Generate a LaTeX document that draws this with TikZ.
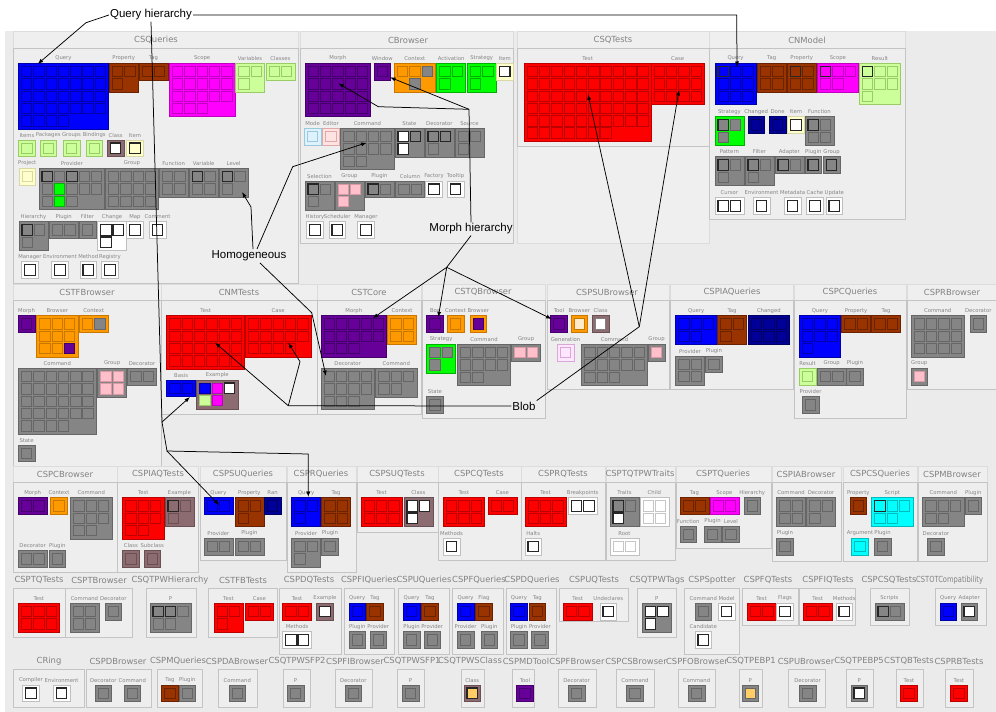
\documentclass[tikz,border=0pt]{standalone}
\usepackage{fontspec}
\usepackage{graphicx}
\usetikzlibrary{arrows.meta}
\newfontfamily\djv{DejaVu Sans}
\newfontfamily\annf{Liberation Sans}
\newcommand\lblfont{\djv\fontsize{5.3}{6.3}\selectfont}
\newcommand\ttlfont{\djv\fontsize{8.4}{10}\selectfont}
\newcommand\annfont{\annf\fontsize{11.5}{13}\selectfont}
\definecolor{cBlue}{HTML}{0000FF}\definecolor{cBlueD}{HTML}{0000A8}
\definecolor{cBrown}{HTML}{993300}\definecolor{cBrownD}{HTML}{6B2200}
\definecolor{cMag}{HTML}{FF00FF}\definecolor{cMagD}{HTML}{C000C0}
\definecolor{cLG}{HTML}{CCFF99}\definecolor{cLGD}{HTML}{99CC66}
\definecolor{cPur}{HTML}{660099}\definecolor{cPurD}{HTML}{44006A}
\definecolor{cOra}{HTML}{FF9900}\definecolor{cOraD}{HTML}{C87800}
\definecolor{cGrn}{HTML}{00FF00}\definecolor{cGrnD}{HTML}{00B000}
\definecolor{cGry}{HTML}{858585}\definecolor{cGryD}{HTML}{666666}
\definecolor{cRed}{HTML}{FF0000}\definecolor{cRedD}{HTML}{BB0000}
\definecolor{cNavy}{HTML}{000099}\definecolor{cNavyD}{HTML}{000060}
\definecolor{cLY}{HTML}{FFFFCC}\definecolor{cLYD}{HTML}{D8D8A8}
\definecolor{cMau}{HTML}{8C6C70}\definecolor{cMauD}{HTML}{6A5053}
\definecolor{cPink}{HTML}{FFC0CB}\definecolor{cPinkD}{HTML}{D89AA4}
\definecolor{cPeach}{HTML}{FFEACC}
\definecolor{cCyan}{HTML}{00FFFF}\definecolor{cCyanD}{HTML}{00BBBB}
\definecolor{cLB}{HTML}{DDF2FC}\definecolor{cLBD}{HTML}{9CC8DC}
\definecolor{cLP}{HTML}{FFE2E2}\definecolor{cLPD}{HTML}{E0A8A8}
\definecolor{cGen}{HTML}{FFE6FF}\definecolor{cGenD}{HTML}{D8A8D8}
\definecolor{cLO}{HTML}{FFCC66}
\definecolor{labelgray}{HTML}{858585}
\definecolor{titlegray}{HTML}{828282}
\definecolor{bgc}{HTML}{EBEBEB}
\definecolor{bandbg}{HTML}{EFEFEF}
\definecolor{bandline}{HTML}{DCDCDC}
\definecolor{bodybg}{HTML}{EEEEEE}
\definecolor{bodyline}{HTML}{C4C4C4}
\newcommand\scheme[6]{\tikzset{#1-b/.style={fill=#2,draw=#3,line width=0.5pt},#1-c/.style={fill=#4,draw=#5,line width=0.8pt,#6}}}
\scheme{bl}{cBlue}{cBlueD}{cBlue}{cBlueD}{}
\scheme{br}{cBrown}{cBrownD}{cBrown}{cBrownD}{}
\scheme{mg}{cMag}{cMagD}{cMag}{cMagD}{}
\scheme{lg}{cLG}{cLGD}{cLG}{cLGD}{}
\scheme{pu}{cPur}{cPurD}{cPur}{cPurD}{}
\scheme{or}{cOra}{cOraD}{cOra}{cOraD}{}
\scheme{gn}{cGrn}{cGrnD}{cGrn}{cGrnD}{}
\scheme{gy}{cGry}{cGryD}{cGry}{cGryD}{}
\scheme{rd}{cRed}{cRedD}{cRed}{cRedD}{}
\scheme{nv}{cNavy}{cNavyD}{cNavy}{cNavyD}{}
\scheme{ly}{cLY}{cLYD}{cLY}{cLYD}{}
\scheme{lyk}{cLY}{cLYD}{cLY}{black!85}{line width=1.1pt}
\scheme{lyw}{cLY}{cLYD}{white}{black!85}{line width=1.1pt}
\scheme{mw}{cMau}{cMauD}{white}{black!85}{line width=1.1pt}
\scheme{mwg}{cMau}{cMauD}{white}{gray}{}
\scheme{wk}{white}{gray!50}{white}{black!85}{line width=1.1pt}
\scheme{wl}{white}{gray!50}{white}{gray!45}{}
\scheme{gpk}{cGry}{cGryD}{cPink}{cPinkD}{}
\scheme{ggy}{cGrn}{cGrnD}{cGry}{cGryD}{}
\scheme{op}{cOra}{cOraD}{cPur}{cPurD}{}
\scheme{ope}{cOra}{cOraD}{cPeach}{cOraD}{}
\scheme{mv}{cMau}{cMauD}{cMau}{cMauD}{}
\scheme{cy}{cCyan}{cCyanD}{cCyan}{cCyanD}{}
\scheme{lb}{cLB}{cLBD}{cLB}{cLBD}{}
\scheme{lp}{cLP}{cLPD}{cLP}{cLPD}{}
\scheme{gen}{cGen}{cGenD}{cGen}{cGenD}{}
\scheme{mlo}{cMau}{cMauD}{cLO}{black!85}{line width=1.1pt}
\scheme{glo}{cGry}{cGryD}{cLO}{cGryD}{}
\scheme{gwk}{cGry}{cGryD}{white}{black!85}{line width=1.1pt}
\tikzset{
  sk/.style={draw=black!85,line width=1.1pt},
  swk/.style={fill=white,draw=black!85,line width=1.1pt},
  sg/.style={fill=cGry,draw=cGryD},
  sgc/.style={fill=cGrn,draw=cGrnD},
  spu/.style={fill=cPur,draw=cPurD},
  scb/.style={fill=cBlue,draw=cBlueD},
  scm/.style={fill=cMag,draw=cMagD},
  sclg/.style={fill=cLG,draw=cLGD},
  snone/.style={fill=none,draw=none},
  lbl/.style={font=\lblfont,text=labelgray,inner sep=0pt},
  ttl/.style={font=\ttlfont,text=titlegray,inner sep=0pt},
  ann/.style={font=\annfont,text=black,inner sep=1pt},
  ln/.style={draw=black,line width=0.75pt},
  arr/.style={draw=black,line width=0.75pt,-{Latex[length=5.5pt,width=4pt]}},
  pkgband/.style={fill=bandbg,draw=bandline,line width=0.5pt},
  pkgbody/.style={fill=bodybg,draw=bodyline,line width=0.8pt},
}
\newcount\gcnt
\newcount\pcnt
% group: x, y, cols, rows, ncells, scheme, label, specials (index/style,...)
\newcommand\grp[8]{%
  \pgfmathsetmacro\gW{12.3*#3+4.2}%
  \pgfmathsetmacro\gH{12.3*#4+4.2}%
  \path[#6-b] (#1,#2) rectangle ++(\gW,\gH);%
  \global\advance\gcnt by 1
  \node[lbl] (lb\the\gcnt) at ({#1+\gW/2},{#2-4.8}) {#7};%
  \def\speclist{#8}%
  \foreach \gk in {1,...,#5}{%
    \gdef\cst{}%
    \ifx\speclist\empty\else
      \foreach \spA/\spB in \speclist {\ifnum\spA=\gk\relax\xdef\cst{\spB}\fi}%
    \fi
    \pgfmathtruncatemacro\grr{(\gk-1)/#3}%
    \pgfmathtruncatemacro\gcc{\gk-1-\grr*#3}%
    \pgfmathsetmacro\gcx{#1+3+\gcc*12.3}%
    \pgfmathsetmacro\gcy{#2+3+\grr*12.3}%
    \edef\doit{\noexpand\path[#6-c,\cst] (\gcx,\gcy) rectangle ++(10.5,10.5);}%
    \doit
  }%
}
% package: x0, x1, ytop, ybody, ybottom, title, title x
\newcommand\pkg[7]{%
  \path[pkgband] (#1,#3) rectangle (#2,#5);
  \path[pkgbody] (#1,#4) rectangle (#2,#5);
  \global\advance\pcnt by 1
  \node[ttl] (pk\the\pcnt) at (#7,{#4-8}) {#6};
}
\begin{document}
\begin{tikzpicture}[x=1pt,y=-1pt]
\useasboundingbox (0,0) rectangle (996,712);
\begin{scope}
\clip (0,0) rectangle (996,712);
\fill[white] (0,0) rectangle (996,712);
\fill[bgc] (5,31) rectangle (996,712);
% ---------- packages ----------
\pkg{13}{298}{31}{48}{283}{CSQueries}{156}
\pkg{300}{513}{31}{48}{243}{CBrowser}{408}
\path[pkgband] (517,31) rectangle (709,243);
\pkg{517}{709}{31}{48}{146}{CSQTests}{613}
\pkg{709}{905}{31}{48}{219}{CNModel}{807}
\pkg{13}{161}{284}{300}{467}{CSTFBrowser}{87}
\pkg{161}{317}{284}{300}{414}{CNMTests}{239}
\pkg{317}{421}{284}{300}{414}{CSTCore}{369}
\pkg{422}{545}{284}{300}{418}{CSTQBrowser}{483}
\pkg{547}{669}{284}{300}{389}{CSPSUBrowser}{607}
\pkg{670}{793}{284}{300}{389}{CSPIAQueries}{732}
\pkg{794}{906}{284}{300}{418}{CSPCQueries}{850}
\pkg{907}{996}{284}{300}{389}{CSPRBrowser}{952}
\pkg{13}{117}{466}{482}{572}{CSPCBrowser}{65}
\pkg{117}{198}{466}{482}{572}{CSPIAQTests}{158}
\pkg{200}{286}{466}{482}{560}{CSPSUQueries}{243}
\pkg{287}{356}{466}{482}{572}{CSPRQueries}{321}
\pkg{357}{438}{466}{482}{532}{CSPSUQTests}{397}
\pkg{438}{521}{466}{482}{560}{CSPCQTests}{479}
\pkg{521}{605}{466}{482}{560}{CSPRQTests}{563}
\pkg{606}{675}{466}{482}{560}{CSPTQTPWTraits}{640}
\pkg{676}{771}{466}{482}{548}{CSPTQueries}{723}
\pkg{772}{841}{466}{482}{561}{CSPIABrowser}{806}
\pkg{843}{917}{466}{482}{561}{CSPCSQueries}{880}
\pkg{918}{987}{466}{482}{561}{CSPMBrowser}{952}
\pkg{13}{65}{588}{588}{637}{CSPTQTests}{39}
\pkg{65}{132}{588}{588}{637}{CSPTBrowser}{99}
\pkg{146}{196}{588}{588}{637}{CSQTPWHierarchy}{170}
\pkg{208}{277}{588}{588}{637}{CSTFBTests}{243}
\pkg{279}{341}{588}{588}{654}{CSPDQTests}{309}
\pkg{344}{394}{588}{588}{654}{CSPFIQueries}{369}
\pkg{398}{449}{588}{588}{654}{CSPUQueries}{424}
\pkg{452}{503}{588}{588}{654}{CSPFQueries}{479}
\pkg{506}{556}{588}{588}{654}{CSPDQueries}{532}
\pkg{559}{628}{588}{588}{621}{CSPUQTests}{594}
\pkg{637}{676}{588}{588}{637}{CSQTPWTags}{657}
\pkg{684}{739}{588}{588}{654}{CSPSpotter}{712}
\pkg{742}{798}{588}{588}{625}{CSPFQTests}{768}
\pkg{799}{855}{588}{588}{625}{CSPFIQTests}{828}
\pkg{870}{909}{588}{588}{625}{CSPCSQTests}{889}
\path[pkgband] (935,588) rectangle (986,625);
\path[pkgbody] (935,588) rectangle (986,625);
\node[ttl,anchor=west] (pkcompat) at (916,580) {\scalebox{0.8}[1]{CSTOTCompatibility}};
\pkg{13}{84}{669}{669}{707}{CRing}{49}
\pkg{86}{151}{669}{669}{707}{CSPDBrowser}{118}
\pkg{157}{202}{669}{669}{707}{CSPMQueries}{178}
\pkg{218}{257}{669}{669}{707}{CSPDABrowser}{237}
\pkg{283}{310}{669}{669}{707}{CSQTPWSFP2}{297}
\pkg{335}{372}{669}{669}{707}{CSPFIBrowser}{355}
\pkg{397}{424}{669}{669}{707}{CSQTPWSFP1}{412}
\pkg{461}{484}{669}{669}{707}{CSQTPWSClass}{470}
\pkg{512}{534}{669}{669}{707}{CSPMDTool}{526}
\pkg{558}{596}{669}{669}{707}{CSPFBrowser}{577}
\pkg{616}{654}{669}{669}{707}{CSPCSBrowser}{636}
\pkg{678}{715}{669}{669}{707}{CSPFOBrowser}{697}
\pkg{739}{762}{669}{669}{707}{CSQTPEBP1}{751}
\pkg{788}{825}{669}{669}{707}{CSPUBrowser}{806}
\pkg{846}{873}{669}{669}{707}{CSQTPEBP5}{859}
\pkg{896}{923}{669}{669}{707}{CSTQBTests}{909}
\pkg{945}{973}{669}{669}{707}{CSPRBTests}{959}
% ---------- CSQueries ----------
\grp{18.3}{63.3}{7}{5}{32}{bl}{Query}{}
\grp{109.3}{63.3}{2}{2}{3}{br}{Property}{}
\grp{139}{63.3}{2}{1}{2}{br}{Tag}{}
\grp{169.3}{63.3}{5}{4}{18}{mg}{Scope}{}
\grp{235.7}{63.3}{2}{2}{3}{lg}{Variables}{}
\grp{266}{63.3}{2}{1}{2}{lg}{Classes}{}
\grp{18.7}{140}{1}{1}{1}{lg}{Items}{}
\grp{40}{140}{1}{1}{1}{lg}{Packages}{}
\grp{63.3}{140}{1}{1}{1}{lg}{Groups}{}
\grp{86}{140}{1}{1}{1}{lg}{Bindings}{}
\grp{107.3}{140}{1}{1}{1}{mw}{Class}{}
\grp{126.7}{140}{1}{1}{1}{lyk}{Item}{}
\grp{19}{168.3}{1}{1}{1}{ly}{Project}{}
\grp{39}{168.3}{5}{3}{13}{gy}{Provider}{1/sk,3/sk,7/sgc,12/sgc}
\grp{105.3}{168.3}{4}{3}{12}{gy}{Group}{}
\grp{159.3}{168.3}{2}{2}{4}{gy}{Function}{}
\grp{189.3}{168.3}{2}{2}{4}{gy}{Variable}{1/sk}
\grp{219.3}{168.3}{2}{2}{3}{gy}{Level}{1/sk}
\grp{19}{221.7}{2}{2}{3}{gy}{Hierarchy}{1/sk}
\grp{49.3}{221.7}{2}{1}{2}{gy}{Plugin}{}
\grp{79.3}{221.7}{1}{1}{1}{gy}{Filter}{}
\grp{97.7}{221.7}{2}{2}{3}{wk}{Change}{}
\grp{126.7}{221.7}{1}{1}{1}{wk}{Map}{}
\grp{149.3}{221.7}{1}{1}{1}{wk}{Comment}{}
\grp{21.7}{261.7}{1}{1}{1}{wk}{Manager}{}
\grp{51.7}{261.7}{1}{1}{1}{wk}{Environment}{}
\grp{80}{261.7}{1}{1}{1}{wk}{Method}{}
\grp{101.7}{261.7}{1}{1}{1}{wk}{Registry}{}
% ---------- CBrowser ----------
\grp{305}{63.3}{5}{4}{20}{pu}{Morph}{}
\grp{374}{63.3}{1}{1}{1}{pu}{Window}{}
\grp{394.3}{63.3}{3}{2}{5}{or}{Context}{3/sg,4/snone,5/sg}
\grp{436.7}{63.3}{2}{2}{3}{gn}{Activation}{}
\grp{467.3}{63.3}{2}{2}{3}{gn}{Strategy}{}
\grp{496.5}{63.3}{1}{1}{1}{lyw}{Item}{}
\grp{304.3}{128.3}{1}{1}{1}{lb}{Mode}{}
\grp{322.7}{128.3}{1}{1}{1}{lp}{Editor}{}
\grp{340.7}{128.3}{4}{3}{10}{gy}{Command}{}
\grp{395}{128.3}{2}{2}{3}{gy}{State}{1/swk,2/sk,3/swk}
\grp{425}{128.3}{2}{2}{3}{gy}{Decorator}{1/sk,2/sk}
\grp{455}{128.3}{2}{2}{3}{gy}{Source}{}
\grp{305}{181}{2}{2}{3}{gy}{Selection}{1/sk}
\grp{335}{181}{2}{2}{3}{gpk}{Group}{}
\grp{365}{181}{2}{1}{2}{gy}{Plugin}{1/sk}
\grp{395.7}{181}{2}{1}{2}{gy}{Column}{}
\grp{425.7}{181}{1}{1}{1}{wk}{Factory}{}
\grp{447.3}{181}{1}{1}{1}{wk}{Tooltip}{}
\grp{306.7}{221.7}{1}{1}{1}{wk}{History}{}
\grp{329}{221.7}{1}{1}{1}{wk}{Scheduler}{}
\grp{357.7}{221.7}{1}{1}{1}{wk}{Manager}{}
% ---------- CSQTests ----------
\grp{524}{63.3}{10}{6}{57}{rd}{Test}{}
\grp{651}{63.3}{4}{3}{12}{rd}{Case}{}
% ---------- CNModel ----------
\grp{715}{63.3}{3}{3}{9}{bl}{Query}{1/sk}
\grp{757.3}{63.3}{2}{2}{4}{br}{Tag}{}
\grp{787.3}{63.3}{2}{2}{4}{br}{Property}{1/sk}
\grp{817.3}{63.3}{3}{2}{5}{mg}{Scope}{1/sk}
\grp{859.3}{63.3}{3}{3}{7}{lg}{Result}{1/sk}
\grp{715}{116.7}{2}{2}{3}{ggy}{Strategy}{1/sk}
\grp{748}{116.7}{1}{1}{1}{nv}{Changed}{}
\grp{769.3}{116.7}{1}{1}{1}{nv}{Done}{}
\grp{787.7}{116.7}{1}{1}{1}{lyw}{Item}{}
\grp{805}{116.7}{2}{2}{4}{gy}{Function}{1/sk}
\grp{715}{156.7}{2}{2}{3}{gy}{Pattern}{1/sk}
\grp{745}{156.7}{2}{2}{3}{gy}{Filter}{1/sk}
\grp{775}{156.7}{2}{1}{2}{gy}{Adapter}{1/sk}
\grp{805}{156.7}{1}{1}{1}{gy}{Plugin}{1/sk}
\grp{823.3}{156.7}{1}{1}{1}{gy}{Group}{1/sk}
\grp{715}{197.7}{2}{1}{2}{wk}{Cursor}{}
\grp{753.3}{197.7}{1}{1}{1}{wk}{Environment}{}
\grp{784.3}{197.7}{1}{1}{1}{wk}{Metadata}{}
\grp{806.7}{197.7}{1}{1}{1}{wk}{Cache}{}
\grp{826}{197.7}{1}{1}{1}{wk}{Update}{}
% ---------- CSTFBrowser ----------
\grp{18.3}{315.7}{1}{1}{1}{pu}{Morph}{}
\grp{36.7}{315.7}{3}{3}{9}{or}{Browser}{9/spu}
\grp{79.3}{315.7}{2}{1}{2}{or}{Context}{2/sg}
\grp{18.3}{368.3}{6}{5}{28}{gy}{Command}{}
\grp{97.7}{368.3}{2}{2}{4}{gpk}{Group}{}
\grp{127.7}{368.3}{2}{1}{2}{gy}{Decorator}{}
\grp{18.3}{445}{1}{1}{1}{gy}{State}{}
% ---------- CNMTests ----------
\grp{166.7}{315.7}{6}{4}{24}{rd}{Test}{}
\grp{245.3}{315.7}{5}{3}{14}{rd}{Case}{}
\grp{166.7}{380}{2}{1}{2}{bl}{Basis}{}
\grp{196.7}{380}{3}{2}{5}{mv}{Example}{1/scb,2/scm,3/swk,4/sclg,5/scm}
% ---------- CSTCore ----------
\grp{321}{315.7}{5}{3}{13}{pu}{Morph}{}
\grp{387.7}{315.7}{2}{2}{4}{or}{Context}{}
\grp{321}{368.3}{4}{3}{11}{gy}{Decorator}{}
\grp{375.7}{368.3}{3}{2}{5}{gy}{Command}{}
% ---------- CSTQBrowser ----------
\grp{426.7}{315.7}{1}{1}{1}{pu}{Box}{}
\grp{447.3}{315.7}{1}{1}{1}{or}{Context}{}
\grp{470}{315.7}{1}{1}{1}{op}{Browser}{}
\grp{426.7}{344.3}{2}{2}{3}{ggy}{Strategy}{}
\grp{457.3}{344.3}{4}{3}{10}{gy}{Command}{}
\grp{511.7}{344.3}{2}{1}{2}{gpk}{Group}{}
\grp{426.7}{396.7}{1}{1}{1}{gy}{State}{}
% ---------- CSPSUBrowser ----------
\grp{550.7}{315.7}{1}{1}{1}{pu}{Tool}{}
\grp{571}{315.7}{1}{1}{1}{ope}{Browser}{}
\grp{592.3}{315.7}{1}{1}{1}{mwg}{Class}{}
\grp{557.3}{344.3}{1}{1}{1}{gen}{Generation}{}
\grp{581.7}{344.3}{5}{3}{13}{gy}{Command}{}
\grp{648.3}{344.3}{1}{1}{1}{gpk}{Group}{}
% ---------- CSPIAQueries ----------
\grp{675.7}{315.7}{3}{2}{5}{bl}{Query}{}
\grp{717.7}{315.7}{2}{2}{3}{br}{Tag}{}
\grp{748.3}{315.7}{3}{2}{6}{nv}{Changed}{}
\grp{675.7}{356}{2}{2}{4}{gy}{Provider}{}
\grp{705.7}{356}{1}{1}{1}{gy}{Plugin}{}
% ---------- CSPCQueries ----------
\grp{799.3}{315.7}{3}{3}{7}{bl}{Query}{}
\grp{841.7}{315.7}{2}{1}{2}{br}{Property}{}
\grp{871.7}{315.7}{2}{1}{2}{br}{Tag}{}
\grp{799.3}{368.3}{1}{1}{1}{lg}{Result}{}
\grp{817.3}{368.3}{2}{1}{2}{gy}{Group}{}
\grp{846.7}{368.3}{1}{1}{1}{gy}{Plugin}{}
\grp{802.3}{396.7}{1}{1}{1}{gy}{Provider}{}
% ---------- CSPRBrowser ----------
\grp{911}{315.7}{4}{3}{12}{gy}{Command}{}
\grp{970}{315.7}{1}{1}{1}{gy}{Decorator}{}
\grp{911}{368.3}{1}{1}{1}{gpk}{Group}{}
% ---------- row 3 ----------
\grp{18.3}{497.7}{2}{1}{2}{pu}{Morph}{}
\grp{50.7}{497.7}{1}{1}{1}{or}{Context}{}
\grp{70.7}{497.7}{3}{3}{8}{gy}{Command}{}
\grp{18.3}{550.7}{2}{1}{2}{gy}{Decorator}{}
\grp{49}{550.7}{1}{1}{1}{gy}{Plugin}{}
\grp{122.7}{497.7}{3}{3}{8}{rd}{Test}{}
\grp{165}{497.7}{2}{2}{3}{mv}{Example}{1/sk}
\grp{122.7}{550.7}{1}{1}{1}{mv}{Class}{}
\grp{144}{550.7}{1}{1}{1}{mv}{Subclass}{}
\grp{204}{497.7}{2}{1}{2}{bl}{Query}{}
\grp{235}{497.7}{2}{2}{3}{br}{Property}{}
\grp{264.3}{497.7}{1}{1}{1}{nv}{Ran}{}
\grp{204}{538.3}{2}{1}{2}{gy}{Provider}{}
\grp{235}{538.3}{2}{1}{2}{gy}{Plugin}{}
\grp{291.7}{497.7}{2}{2}{3}{bl}{Query}{}
\grp{321.7}{497.7}{2}{2}{4}{br}{Tag}{}
\grp{291.7}{538.3}{2}{2}{3}{gy}{Provider}{}
\grp{321.7}{538.3}{1}{1}{1}{gy}{Plugin}{}
\grp{361}{497.7}{3}{2}{6}{rd}{Test}{}
\grp{404}{497.7}{2}{2}{3}{mw}{Class}{}
\grp{443.3}{497.7}{3}{2}{6}{rd}{Test}{}
\grp{488}{497.7}{2}{1}{2}{rd}{Case}{}
\grp{443.3}{538.3}{1}{1}{1}{wk}{Methods}{}
\grp{525}{497.7}{3}{2}{6}{rd}{Test}{}
\grp{568.3}{497.7}{2}{1}{2}{wk}{Breakpoints}{}
\grp{525}{538.3}{1}{1}{1}{wk}{Halts}{}
\grp{610}{497.7}{2}{2}{3}{gy}{Traits}{1/sk,3/swk}
\grp{640}{497.7}{2}{2}{4}{wl}{Child}{}
\grp{610}{538.3}{2}{1}{2}{wl}{Root}{}
\grp{680}{497.7}{2}{1}{2}{br}{Tag}{}
\grp{710}{497.7}{2}{1}{2}{mg}{Scope}{}
\grp{744}{497.7}{1}{1}{1}{gy}{Hierarchy}{}
\grp{680}{526}{1}{1}{1}{gy}{Function}{}
\grp{704.3}{526}{1}{1}{1}{gy}{Plugin}{}
\grp{722.7}{526}{1}{1}{1}{gy}{Level}{}
\grp{776.7}{497.7}{2}{2}{4}{gy}{Command}{}
\grp{806.7}{497.7}{2}{2}{3}{gy}{Decorator}{}
\grp{776.7}{538.3}{1}{1}{1}{gy}{Plugin}{}
\grp{850}{497.7}{1}{1}{1}{br}{Property}{}
\grp{871.7}{497.7}{3}{2}{5}{cy}{Script}{1/sk}
\grp{851.7}{538.3}{1}{1}{1}{cy}{Argument}{}
\grp{874.3}{538.3}{1}{1}{1}{gy}{Plugin}{}
\grp{922.7}{497.7}{3}{2}{5}{gy}{Command}{}
\grp{965}{497.7}{1}{1}{1}{gy}{Plugin}{}
\grp{927.7}{538.3}{1}{1}{1}{gy}{Decorator}{}
% ---------- row 4 ----------
\grp{18.3}{603.3}{3}{2}{6}{rd}{Test}{}
\grp{70}{603.3}{2}{2}{4}{gy}{Command}{}
\grp{105}{603.3}{1}{1}{1}{gy}{Decorator}{}
\grp{150}{603.3}{3}{2}{5}{gy}{P}{1/sk,2/sk}
\grp{214}{603.3}{2}{2}{3}{rd}{Test}{}
\grp{244.9}{603.3}{2}{1}{2}{rd}{Case}{}
\grp{282.7}{603.3}{2}{1}{2}{rd}{Test}{}
\grp{316.7}{603.3}{1}{1}{1}{mw}{Example}{}
\grp{282.7}{631.7}{2}{1}{2}{wk}{Methods}{}
\grp{349}{603.3}{1}{1}{1}{bl}{Query}{}
\grp{366.7}{603.3}{1}{1}{1}{br}{Tag}{}
\grp{349}{631.7}{1}{1}{1}{gy}{Plugin}{}
\grp{370}{631.7}{1}{1}{1}{gy}{Provider}{}
\grp{403.3}{603.3}{1}{1}{1}{bl}{Query}{}
\grp{421.7}{603.3}{1}{1}{1}{br}{Tag}{}
\grp{403.3}{631.7}{1}{1}{1}{gy}{Plugin}{}
\grp{424}{631.7}{1}{1}{1}{gy}{Provider}{}
\grp{457.3}{603.3}{1}{1}{1}{bl}{Query}{}
\grp{475.7}{603.3}{1}{1}{1}{br}{Flag}{}
\grp{457.3}{631.7}{1}{1}{1}{gy}{Provider}{}
\grp{481}{631.7}{1}{1}{1}{gy}{Plugin}{}
\grp{510.7}{603.3}{1}{1}{1}{bl}{Query}{}
\grp{529}{603.3}{1}{1}{1}{br}{Tag}{}
\grp{510.7}{631.7}{1}{1}{1}{gy}{Plugin}{}
\grp{531.7}{631.7}{1}{1}{1}{gy}{Provider}{}
\grp{563.3}{603.3}{2}{1}{2}{rd}{Test}{}
\grp{600}{603.3}{1}{1}{1}{wk}{Undeclares}{}
\grp{642.3}{603.3}{2}{2}{3}{gwk}{P}{}
\grp{695}{603.3}{1}{1}{1}{gy}{Command}{}
\grp{718.3}{603.3}{1}{1}{1}{wk}{Model}{}
\grp{695}{631.7}{1}{1}{1}{wk}{Candidate}{}
\grp{747.2}{603.3}{2}{1}{2}{rd}{Test}{}
\grp{776.7}{603.3}{1}{1}{1}{wk}{Flags}{}
\grp{803.3}{603.3}{2}{1}{2}{rd}{Test}{}
\grp{836}{603.3}{1}{1}{1}{wk}{Methods}{}
\grp{875}{603.3}{2}{1}{2}{gy}{Scripts}{1/sk}
\grp{940}{603.3}{1}{1}{1}{bl}{Query}{}
\grp{961}{603.3}{1}{1}{1}{gwk}{Adapter}{}
% ---------- row 5 ----------
\grp{22.7}{685}{1}{1}{1}{wk}{Compiler}{}
\grp{53.3}{685}{1}{1}{1}{wk}{Environment}{}
\grp{95}{685}{1}{1}{1}{gy}{Decorator}{}
\grp{124}{685}{1}{1}{1}{gy}{Command}{}
\grp{161.7}{685}{1}{1}{1}{br}{Tag}{}
\grp{179}{685}{1}{1}{1}{gy}{Plugin}{}
\grp{229}{685}{1}{1}{1}{gy}{Command}{}
\grp{287.3}{685}{1}{1}{1}{gy}{P}{}
\grp{345}{685}{1}{1}{1}{gy}{Decorator}{}
\grp{402.3}{685}{1}{1}{1}{gy}{P}{}
\grp{464}{685}{1}{1}{1}{mlo}{Class}{}
\grp{516.7}{685}{1}{1}{1}{pu}{Tool}{}
\grp{568.3}{685}{1}{1}{1}{gy}{Decorator}{}
\grp{626.7}{685}{1}{1}{1}{gy}{Command}{}
\grp{688.3}{685}{1}{1}{1}{gy}{Command}{}
\grp{742}{685}{1}{1}{1}{glo}{P}{}
\grp{799.3}{685}{1}{1}{1}{gy}{Decorator}{}
\grp{851}{685}{1}{1}{1}{gwk}{P}{}
\grp{900.7}{685}{1}{1}{1}{rd}{Test}{}
\grp{950.7}{685}{1}{1}{1}{rd}{Test}{}
\end{scope}
% ---------- annotations ----------
\node[ann] (qh) at (151,15) {Query hierarchy};
\node[ann] (hom) at (249,256) {Homogeneous};
\node[ann] (mh) at (471,229) {Morph hierarchy};
\node[ann] (blob) at (524,406) {Blob};
% coordinates
\coordinate (q1) at (86,22.7);
\coordinate (tq1) at (37.7,64);
\coordinate (q2) at (736.7,15);
\coordinate (tq2) at (737,67);
\coordinate (q4) at (162,422);
\coordinate (q5) at (167,451);
\coordinate (q6) at (308.3,454);
\coordinate (tq6) at (308.3,497);
\coordinate (tbasis) at (190,397);
\coordinate (tsu) at (219,505);
\coordinate (h1s) at (253,249);
\coordinate (h1) at (251,207);
\coordinate (th1) at (242,192);
\coordinate (h2s) at (257,249);
\coordinate (h2) at (292.7,166.7);
\coordinate (th2) at (366.7,142.7);
\coordinate (h3s) at (260,263);
\coordinate (h3) at (311.7,312.7);
\coordinate (th3) at (326,376);
\coordinate (m1) at (469,109.3);
\coordinate (m2) at (378.3,106.7);
\coordinate (tm1) at (338.3,83.3);
\coordinate (tm2) at (390,77.3);
\coordinate (m3) at (446.7,267.3);
\coordinate (tm3) at (372.7,318.3);
\coordinate (tm4) at (438.3,317.3);
\coordinate (tm5) at (551.7,319);
\coordinate (b1) at (288.3,405.7);
\coordinate (b2) at (300,361.7);
\coordinate (tb1) at (288.3,342.7);
\coordinate (tb2) at (215,342.7);
\coordinate (b3) at (639.3,326.7);
\coordinate (tb3) at (588,94.3);
\coordinate (tb4) at (679,90);
% connectors
\draw[arr] (qh.west) -- (q1) -- (tq1);
\draw[arr] (qh.east) -- (q2) -- (tq2);
\draw[ln] (qh.south) -- (q4) -- (q5);
\draw[arr] (q4) -- (tbasis);
\draw[arr] (q5) -- (tsu);
\draw[arr] (q5) -- (q6) -- (tq6);
\draw[arr] (h1s) -- (h1) -- (th1);
\draw[arr] (h2s) -- (h2) -- (th2);
\draw[arr] (h3s) -- (h3) -- (th3);
\draw[ln] (mh.north) -- (m1);
\draw[arr] (m1) -- (m2) -- (tm1);
\draw[arr] (m1) -- (tm2);
\draw[ln] (mh.south) -- (m3);
\draw[arr] (m3) -- (tm3);
\draw[arr] (m3) -- (tm4);
\draw[arr] (m3) -- (tm5);
\draw[ln] (blob.west) -- (b1);
\draw[arr] (b1) -- (b2) -- (tb1);
\draw[arr] (b1) -- (tb2);
\draw[ln] (blob.north east) -- (b3);
\draw[arr] (b3) -- (tb3);
\draw[arr] (b3) -- (tb4);
\end{tikzpicture}
\end{document}
